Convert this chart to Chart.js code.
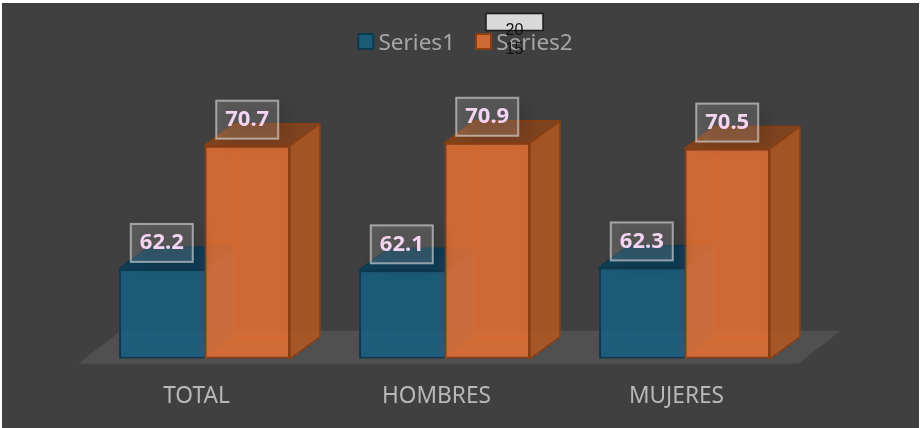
<!DOCTYPE html>
<html><head><meta charset="utf-8">
<style>html,body{margin:0;padding:0;background:#fff}#w{position:absolute;left:2px;top:3px;width:917px;height:425px}</style>
<script src="https://cdn.jsdelivr.net/npm/chart.js@4"></script>
</head><body><div id="w"><canvas id="c"></canvas></div>
<script>
const categories = ['TOTAL', 'HOMBRES', 'MUJERES'];
const series1 = [62.2, 62.1, 62.3];
const series2 = [70.7, 70.9, 70.5];
const seriesNames = ['Series1', 'Series2'];
const strayTicks = ['20', '15'];
const yMin = 56;
const yMax = 76.3;
const fills = ['rgba(21,96,130,0.85)', 'rgba(233,113,50,0.85)'];
const sides = ['rgba(18,80,108,0.85)', 'rgba(180,88,32,0.85)'];
const tops = ['rgba(10,62,90,0.9)', 'rgba(133,68,28,0.9)'];
const edges = ['#0d3a4f', '#8a3f12'];
const swatches = ['#1b5b78', '#d06a34'];
const DX = 30, DY = -22;
const LEGEND_SHIFT = 21;

const deco = {
  id: 'deco',
  afterLayout(ch) {
    const L = ch.legend;
    L.left += LEGEND_SHIFT; L.right += LEGEND_SHIFT;
    L.adjustHitBoxes();
  },
  beforeDatasetsDraw(ch) {
    const {ctx, chartArea: a} = ch;
    ctx.save();
    const base = a.bottom;
    ctx.fillStyle = '#505050';
    ctx.beginPath();
    ctx.moveTo(a.left - 6.5, base + 5);
    ctx.lineTo(a.right - 6.5, base + 5);
    ctx.lineTo(a.right + 36.5, base - 28);
    ctx.lineTo(a.left + 36.5, base - 28);
    ctx.closePath(); ctx.fill();
    [0, 1].forEach(d => ch.getDatasetMeta(d).data.forEach(b => {
      const l = b.x - b.width / 2, r = b.x + b.width / 2, t = b.y, bt = base;
      ctx.lineWidth = 1.5; ctx.lineJoin = 'round';
      ctx.strokeStyle = edges[d];
      // hidden back edges, seen through the translucent fronts
      ctx.globalAlpha = 0.45;
      ctx.beginPath();
      ctx.moveTo(l + DX, t + DY); ctx.lineTo(l + DX, bt + DY); ctx.lineTo(r + DX, bt + DY);
      ctx.moveTo(l, bt); ctx.lineTo(l + DX, bt + DY);
      ctx.stroke();
      ctx.globalAlpha = 1;
      // side face
      ctx.fillStyle = sides[d];
      ctx.beginPath(); ctx.moveTo(r, t); ctx.lineTo(r + DX, t + DY); ctx.lineTo(r + DX, bt + DY); ctx.lineTo(r, bt); ctx.closePath(); ctx.fill();
      if (d === 1) ctx.stroke();
      // top face
      ctx.fillStyle = tops[d];
      ctx.beginPath(); ctx.moveTo(l, t); ctx.lineTo(l + DX, t + DY); ctx.lineTo(r + DX, t + DY); ctx.lineTo(r, t); ctx.closePath(); ctx.fill();
      ctx.stroke();
    }));
    ctx.restore();
  },
  afterDatasetsDraw(ch) {
    const {ctx} = ch;
    ctx.save();
    [[0, series1], [1, series2]].forEach(([d, vals]) => ch.getDatasetMeta(d).data.forEach((b, i) => {
      const w = 62, h = 38, x = b.x - w / 2, y = b.y - 26 - h / 2;
      ctx.save();
      ctx.shadowColor = 'rgba(0,0,0,0.9)'; ctx.shadowBlur = 16; ctx.shadowOffsetX = 8; ctx.shadowOffsetY = 3;
      ctx.fillStyle = 'rgba(255,255,255,0.14)';
      ctx.fillRect(x, y, w, h);
      ctx.restore();
      ctx.strokeStyle = 'rgba(225,225,225,0.6)'; ctx.lineWidth = 2;
      ctx.strokeRect(x, y, w, h);
      ctx.fillStyle = '#f4d4f0';
      ctx.font = 'bold 22px "Noto Sans"';
      ctx.textAlign = 'center'; ctx.textBaseline = 'middle';
      ctx.fillText(vals[i].toFixed(1), b.x, b.y - 26);
    }));
    ctx.restore();
  },
  afterDraw(ch) {
    const {ctx} = ch;
    ctx.save();
    ch.legend.legendHitBoxes.forEach((hb, i) => {
      ctx.fillStyle = swatches[i]; ctx.strokeStyle = edges[i]; ctx.lineWidth = 2;
      ctx.fillRect(hb.left, 31, 15, 15); ctx.strokeRect(hb.left, 31, 15, 15);
    });
    ctx.fillStyle = '#d9d9d9'; ctx.strokeStyle = '#1a1a1a'; ctx.lineWidth = 1.5;
    ctx.fillRect(484, 10.5, 57, 17); ctx.strokeRect(484, 10.5, 57, 17);
    ctx.fillStyle = '#111'; ctx.font = '16px "Liberation Sans"';
    ctx.textAlign = 'center'; ctx.textBaseline = 'middle';
    ctx.fillText(strayTicks[0], 512.5, 28);
    ctx.fillText(strayTicks[1], 512.5, 47);
    ctx.restore();
  }
};

new Chart(document.getElementById('c'), {
  type: 'bar',
  data: {
    labels: categories,
    datasets: [
      {label: seriesNames[0], data: series1, base: yMin, backgroundColor: fills[0], borderColor: edges[0], borderWidth: 2, borderSkipped: 'right'},
      {label: seriesNames[1], data: series2, base: yMin, backgroundColor: fills[1], borderColor: edges[1], borderWidth: 2, borderSkipped: false}
    ]
  },
  options: {
    responsive: true, maintainAspectRatio: false, animation: false,
    layout: {padding: {left: 82.5, right: 114.5, top: 8, bottom: 2}},
    datasets: {bar: {categoryPercentage: 0.712, barPercentage: 1}},
    plugins: {
      tooltip: {enabled: false},
      legend: {
        position: 'top', align: 'center',
        labels: {color: '#a6a6a6', font: {size: 22.5, family: '"Noto Sans"'}, boxWidth: 9, boxHeight: 15, padding: 21,
          generateLabels: ch => ch.data.datasets.map((d, i) => ({text: d.label, fillStyle: 'rgba(0,0,0,0)', strokeStyle: 'rgba(0,0,0,0)', lineWidth: 0, datasetIndex: i, fontColor: '#a6a6a6'}))}
      }
    },
    scales: {
      x: {grid: {display: false}, border: {display: false},
        ticks: {color: '#b8b8b8', font: {size: 22.7, family: '"Noto Sans"'}, labelOffset: -8, padding: 16}},
      y: {display: false, min: yMin, max: yMax}
    }
  },
  plugins: [{id: 'bg', beforeDraw(ch) {
    const {ctx, width, height} = ch;
    ctx.save(); ctx.fillStyle = '#404040'; ctx.fillRect(0, 0, width, height); ctx.restore();
  }}, deco]
});
</script></body></html>
